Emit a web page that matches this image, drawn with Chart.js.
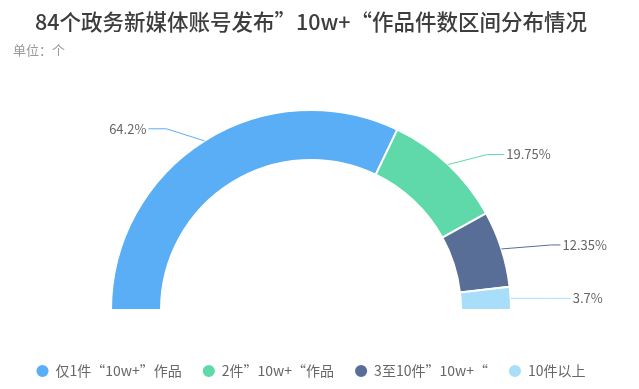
<!DOCTYPE html>
<html>
<head>
<meta charset="utf-8">
<script src="https://cdn.jsdelivr.net/npm/chart.js@4"></script>
<style>
  html, body { margin: 0; padding: 0; background: #fff; }
  #wrap { width: 639px; height: 389px; }
</style>
</head>
<body>
<div id="wrap"><canvas id="pie"></canvas></div>
<script>
const categories = ['仅1件“10w+”作品', '2件”10w+“作品', '3至10件”10w+“', '10件以上'];
const shares = [64.2, 19.75, 12.35, 3.7];
const colors = ['#5aaef5', '#5fd9a9', '#596e96', '#a8defa'];

const FONT = '"Noto Sans CJK SC", "Noto Sans", sans-serif';

// where each leader line bends, relative to the point on the outer rim
const bends = [[-38, -12], [39, -10], [50, -4], [40, 0]];
const tails = [18, 17, 9, 20];

const leaderLabels = {
    id: 'leaderLabels',
    afterDatasetsDraw(chart) {
        const ctx = chart.ctx;
        const arcs = chart.getDatasetMeta(0).data;
        ctx.save();
        ctx.font = '13px ' + FONT;
        ctx.textBaseline = 'middle';
        ctx.lineWidth = 1;
        arcs.forEach((arc, i) => {
            const p = arc.getProps(['x', 'y', 'startAngle', 'endAngle', 'outerRadius'], true);
            const mid = (p.startAngle + p.endAngle) / 2;
            const x0 = p.x + Math.cos(mid) * p.outerRadius;
            const y0 = p.y + Math.sin(mid) * p.outerRadius;
            const x1 = x0 + bends[i][0];
            const y1 = y0 + bends[i][1];
            const left = Math.cos(mid) < 0;
            const x2 = left ? x1 - tails[i] : x1 + tails[i];
            ctx.strokeStyle = colors[i];
            ctx.beginPath();
            ctx.moveTo(x0, y0);
            ctx.lineTo(x1, y1);
            ctx.lineTo(x2, y1);
            ctx.stroke();
            ctx.fillStyle = '#666';
            ctx.textAlign = left ? 'right' : 'left';
            ctx.fillText(shares[i] + '%', left ? x2 - 2 : x2 + 2, y1);
        });
        ctx.restore();
    }
};

new Chart(document.getElementById('pie'), {
    type: 'doughnut',
    data: {
        labels: categories,
        datasets: [{
            data: shares,
            backgroundColor: colors,
            borderColor: '#fff',
            borderWidth: 2,
            hoverOffset: 0
        }]
    },
    options: {
        responsive: true,
        maintainAspectRatio: false,
        animation: false,
        rotation: -90,
        circumference: 180,
        cutout: '75%',
        layout: {
            padding: { left: 13, right: 30, top: 0, bottom: 1 }
        },
        plugins: {
            title: {
                display: true,
                text: '84个政务新媒体账号发布”10w+“作品件数区间分布情况',
                color: '#3d3d3d',
                font: { family: FONT, size: 21.5, weight: '500', lineHeight: 24 / 21.5 },
                padding: { top: 10, bottom: 4 }
            },
            subtitle: {
                display: true,
                text: '单位：个',
                align: 'start',
                color: '#999',
                font: { family: FONT, size: 13 },
                padding: { top: 4, bottom: 51.4 }
            },
            legend: {
                position: 'bottom',
                title: {
                    // empty title only used as a spacer above the items
                    display: true,
                    text: '',
                    font: { size: 12 },
                    padding: 8.8
                },
                labels: {
                    usePointStyle: true,
                    pointStyle: 'circle',
                    boxWidth: 12,
                    boxHeight: 10,
                    padding: 21,
                    color: '#666',
                    font: { family: FONT, size: 14 }
                }
            },
            tooltip: { enabled: false }
        }
    },
    plugins: [leaderLabels]
});
</script>
</body>
</html>
